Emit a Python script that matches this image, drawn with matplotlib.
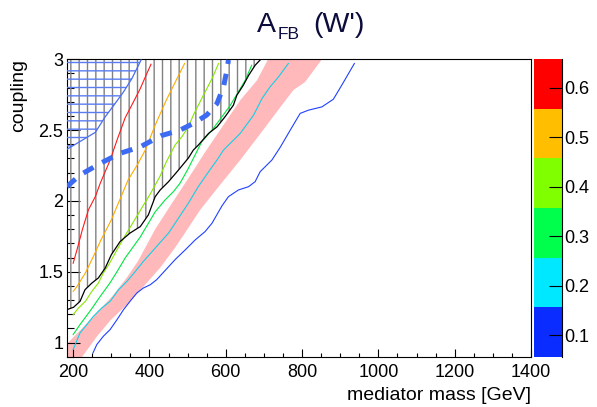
import numpy as np
import matplotlib
matplotlib.use('Agg')
import matplotlib.pyplot as plt
from matplotlib.colors import ListedColormap, BoundaryNorm
from matplotlib.cm import ScalarMappable
from matplotlib.ticker import MultipleLocator, FormatStrFormatter

# axis ranges
x_range = (183, 1400)
y_range = (0.9, 3.0)

# contour lines of A_FB
red_x = [200, 210, 224, 240, 258, 271, 297, 315, 336, 358, 376, 391, 404]
red_y = [1.56, 1.655, 1.796, 1.937, 2.03, 2.125, 2.289, 2.43, 2.585, 2.699, 2.794, 2.887, 2.965]

orange_x = [200, 210, 232, 253, 273, 300, 322, 344, 368, 389, 415, 444, 470, 492]
orange_y = [1.361, 1.396, 1.491, 1.608, 1.725, 1.866, 2.007, 2.148, 2.254, 2.359, 2.535, 2.711, 2.852, 2.97]

lime_x = [200, 214, 232, 249, 266, 279, 293, 315, 336, 358, 380, 402, 428, 444, 467, 485, 502, 515, 528, 546, 564, 581]
lime_y = [1.197, 1.244, 1.291, 1.361, 1.42, 1.491, 1.549, 1.655, 1.754, 1.852, 1.951, 2.049, 2.176, 2.275,
          2.394, 2.453, 2.523, 2.606, 2.676, 2.77, 2.864, 2.97]

green_x = [200, 218, 245, 271, 297, 318, 336, 376, 415, 441, 463, 480, 500, 515, 537, 564, 590, 612, 633, 651, 668]
green_y = [1.056, 1.127, 1.225, 1.326, 1.423, 1.514, 1.596, 1.746, 1.923, 2.007, 2.066, 2.125, 2.22, 2.3,
           2.418, 2.5, 2.594, 2.676, 2.77, 2.852, 2.958]

cyan_x = [200, 218, 236, 253, 275, 297, 319, 341, 363, 384, 415, 450, 476, 502, 528, 555, 577, 594, 638,
          673, 695, 716, 738, 764]
cyan_y = [0.951, 1.068, 1.127, 1.185, 1.244, 1.291, 1.373, 1.432, 1.502, 1.573, 1.667, 1.773, 1.878, 1.984,
          2.101, 2.206, 2.289, 2.359, 2.477, 2.606, 2.723, 2.805, 2.875, 2.97]

blue_x = [252, 262, 279, 297, 315, 332, 349, 367, 384, 402, 419, 467, 494, 520, 546, 564, 590, 607, 633,
          660, 677, 690, 721, 743, 769, 795, 817, 852, 882, 904, 937]
blue_y = [0.927, 0.986, 1.044, 1.092, 1.162, 1.232, 1.291, 1.35, 1.385, 1.408, 1.444, 1.585, 1.655, 1.725,
          1.784, 1.843, 1.965, 2.03, 2.077, 2.101, 2.136, 2.206, 2.289, 2.38, 2.5, 2.618, 2.641, 2.664,
          2.718, 2.817, 2.97]

# observed limit (black) -> hatched region on its left
obs_x = [183.5, 201, 218, 231, 249, 266, 284, 300, 323, 349, 376, 397, 415, 428, 450, 476, 502, 515, 528,
         555, 577, 598, 620, 629, 646, 660, 677, 690]
obs_y = [1.232, 1.249, 1.291, 1.373, 1.42, 1.456, 1.526, 1.62, 1.713, 1.773, 1.819, 1.901, 2.03, 2.077,
         2.136, 2.218, 2.303, 2.359, 2.394, 2.477, 2.523, 2.594, 2.676, 2.746, 2.817, 2.887, 2.958, 2.995]

# expected band (pink)
band_up_x = [183.5, 218, 258, 302, 341, 370, 415, 459, 502, 546, 585, 638, 682, 711]
band_up_y = [0.99, 1.085, 1.2, 1.325, 1.46, 1.575, 1.80, 1.984, 2.16, 2.345, 2.5, 2.711, 2.852, 3.0]
band_lo_x = [183.5, 224, 262, 297, 341, 384, 428, 467, 502, 533, 585, 638, 690, 743, 777, 808, 852]
band_lo_y = [0.754, 0.901, 1.042, 1.155, 1.268, 1.394, 1.528, 1.669, 1.81, 1.937, 2.113, 2.289, 2.472,
             2.662, 2.782, 2.84, 3.0]

# other constraint (thick dashed blue)
dash_x = [183.5, 218, 271, 323, 376, 430, 480, 515, 550, 577, 594, 603, 607]
dash_y = [2.101, 2.183, 2.265, 2.336, 2.382, 2.46, 2.5, 2.547, 2.606, 2.688, 2.805, 2.923, 2.995]

# excluded region top-left (blue, horizontal hatch)
excl_x = [183.5, 258, 284, 310, 332, 354, 378]
excl_y = [2.364, 2.484, 2.594, 2.688, 2.77, 2.864, 2.995]

# colour scale
cb_levels = [0.057, 0.157, 0.257, 0.357, 0.457, 0.557, 0.657]
cb_colors = ['#0a2cff', '#00e8ff', '#00ff4c', '#80ff00', '#ffbf00', '#ff0000']
cb_ticks = [0.1, 0.2, 0.3, 0.4, 0.5, 0.6]

plt.rcParams['font.family'] = ['Liberation Sans', 'DejaVu Sans']
plt.rcParams['hatch.linewidth'] = 1.0

fig = plt.figure(figsize=(5.97, 4.07), dpi=100)
ax = fig.add_axes([0.1117, 0.1236, 0.7777, 0.7307])
cax = fig.add_axes([0.895, 0.1236, 0.0459, 0.7307])

# band
ax.fill(np.concatenate([band_up_x, band_lo_x[::-1]]),
        np.concatenate([band_up_y, band_lo_y[::-1]]),
        color='#ffb9bb', lw=0, zorder=1)

# hatched regions
ax.fill_betweenx(obs_y, x_range[0], obs_x, facecolor='none', edgecolor='#808080',
                 hatch='||', linewidth=0, zorder=2)
ax.fill_betweenx(excl_y, x_range[0], excl_x, facecolor='none', edgecolor='#5a7cf0',
                 hatch='--', linewidth=0, zorder=3)

# contour lines
ax.plot(red_x, red_y, color='#ff1a1a', lw=0.8, zorder=4)
ax.plot(orange_x, orange_y, color='#ffaa00', lw=0.8, zorder=4)
ax.plot(lime_x, lime_y, color='#88e600', lw=0.8, zorder=4)
ax.plot(green_x, green_y, color='#00e640', lw=0.8, zorder=4)
ax.plot(cyan_x, cyan_y, color='#10d0e8', lw=0.8, zorder=4)
ax.plot(blue_x, blue_y, color='#2040ff', lw=0.8, zorder=4)
ax.plot(obs_x, obs_y, color='black', lw=0.9, zorder=5)
ax.plot(excl_x, excl_y, color='#4a6ef0', lw=0.9, zorder=5)
ax.plot(dash_x, dash_y, color='#3d6af2', lw=3.6, zorder=6,
        linestyle=(0, (2.3, 2.0)), dash_capstyle='butt')

ax.set_xlim(*x_range)
ax.set_ylim(*y_range)
ax.xaxis.set_major_locator(MultipleLocator(200))
ax.xaxis.set_minor_locator(MultipleLocator(50))
ax.yaxis.set_major_locator(MultipleLocator(0.5))
ax.yaxis.set_minor_locator(MultipleLocator(0.1))
ax.yaxis.set_major_formatter(FormatStrFormatter('%g'))
ax.tick_params(which='both', direction='in', top=False, right=False, labelsize=13, width=0.8)
ax.tick_params(axis='x', which='major', length=6, pad=5)
ax.tick_params(axis='x', which='minor', length=3)
ax.tick_params(axis='y', which='major', length=9.6, pad=2.5)
ax.tick_params(axis='y', which='minor', length=4.8)
for s in ax.spines.values():
    s.set_linewidth(0.8)

ax.text(1.0, -0.146, 'mediator mass [GeV]', transform=ax.transAxes, ha='right', va='baseline', fontsize=14)
ax.text(-0.103, 1.0, 'coupling', transform=ax.transAxes, rotation=90, ha='center', va='top', fontsize=14)

# title A_FB (W')
tc = '#0c0c3c'
fig.text(0.430, 0.9214, 'A', fontsize=20.5, color=tc, va='baseline')
fig.text(0.4645, 0.903, 'FB', fontsize=12.5, color=tc, va='baseline')
fig.text(0.5248, 0.9214, "(W')", fontsize=20.5, color=tc, va='baseline')

# colour bar
cmap = ListedColormap(cb_colors)
norm = BoundaryNorm(cb_levels, cmap.N)
cb = fig.colorbar(ScalarMappable(norm=norm, cmap=cmap), cax=cax, ticks=cb_ticks)
cb.outline.set_visible(False)
cax.spines['right'].set_visible(True)
cax.spines['right'].set_linewidth(0.8)
cax.yaxis.set_major_formatter(FormatStrFormatter('%.1f'))
cax.tick_params(direction='in', length=9.4, width=0.8, pad=1.5, labelsize=13, right=True, left=False)
cax.minorticks_off()

fig.savefig('out.png', dpi=100)
